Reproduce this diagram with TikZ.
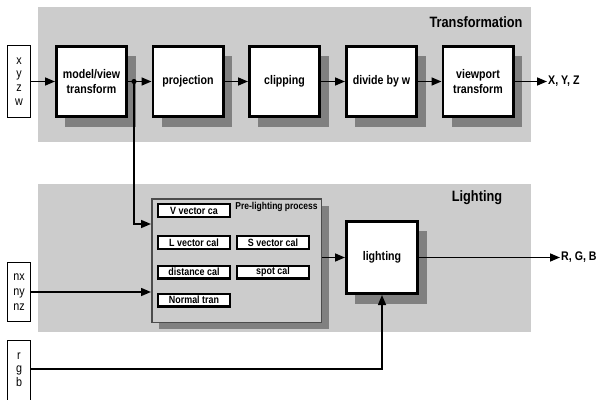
\documentclass[tikz,border=0pt]{standalone}
\usepackage{fontspec}
\setmainfont{Liberation Sans}
\newfontfamily\condbold[FakeStretch=0.85]{Liberation Sans Bold}
\newfontfamily\condreg[FakeStretch=0.86]{Liberation Sans}
\usetikzlibrary{shadows,arrows.meta}
\definecolor{panelgray}{gray}{0.80}
\definecolor{shadowgray}{gray}{0.50}
\definecolor{frame}{gray}{0.30}
\begin{document}
\begin{tikzpicture}[x=1pt,y=-1pt,
  panel/.style={fill=panelgray, inner sep=0, outer sep=0},
  stage/.style={draw, line width=2.6pt, fill=white, inner sep=0,
    minimum width=70.4pt, minimum height=70.4pt, align=center,
    font=\condbold\fontsize{12.5}{14.5}\selectfont,
    drop shadow={shadow xshift=9pt, shadow yshift=-10pt, fill=shadowgray, opacity=1}},
  subbox/.style={draw, line width=2.4pt, fill=white, inner sep=0,
    minimum width=71.6pt, minimum height=12.6pt,
    font=\condbold\fontsize{10.5}{12}\selectfont},
  inbox/.style={draw, line width=1.3pt, fill=white, inner sep=0,
    minimum width=22.7pt, align=center},
  title/.style={font=\condbold\fontsize{15}{17}\selectfont, inner sep=0},
  outlabel/.style={font=\condbold\fontsize{12.5}{15}\selectfont, inner sep=1pt},
  conn/.style={line width=1.5pt, -{Triangle[length=10pt,width=8pt]}},
  wire/.style={line width=1.5pt}
]
\clip (0,0) rectangle (596,399);
\useasboundingbox (0,0) rectangle (596,399);

% background panels
\node[panel, minimum width=493pt, minimum height=135pt] (tpanel) at (284.5,74.5) {};
\node[panel, minimum width=493pt, minimum height=148pt] (lpanel) at (284.5,258) {};
\node[title] (ttitle) at (476,22) {Transformation};
\node[title] (ltitle) at (477,198) {Lighting};

% transformation pipeline
\node[inbox, minimum height=71.7pt, font=\condreg\fontsize{12.5}{13.7}\selectfont] (xyzw) at (19,81.5) {x\\y\\z\\w};
\node[stage] (mv)   at (91.5,81.5)  {model/view\\transform};
\node[stage] (proj) at (188,81.5)   {projection};
\node[stage] (clip) at (284.5,81.5) {clipping};
\node[stage] (div)  at (381.5,81.5) {divide by w};
\node[stage] (vp)   at (478,81.5)   {viewport\\transform};
\node[outlabel, anchor=west] (xyzout) at (547,81.5) {X, Y, Z};

\draw[conn] (xyzw) -- (mv);
\draw[conn] (mv) -- (proj);
\draw[conn] (proj) -- (clip);
\draw[conn] (clip) -- (div);
\draw[conn] (div) -- (vp);
\draw[conn] (vp) -- (xyzout);

% pre-lighting group
\node[draw=frame, line width=1.5pt, fill=panelgray, inner sep=0,
      minimum width=169.5pt, minimum height=123.5pt,
      drop shadow={shadow xshift=7.5pt, shadow yshift=-7pt, fill=shadowgray, opacity=1}]
      (pre) at (236.5,260.5) {};
\node[font=\condbold\fontsize{10}{12}\selectfont, inner sep=0] (prelabel) at (276.5,207) {Pre-lighting process};
\node[subbox] (vvec)  at (194,210.5) {V vector ca};
\node[subbox] (lvec)  at (194,242.5) {L vector cal};
\node[subbox] (svec)  at (273,242.5) {S vector cal};
\node[subbox] (dist)  at (194,272)   {distance cal};
\node[subbox] (spot)  at (273,272)   {spot cal};
\node[subbox] (ntran) at (194,300)   {Normal tran};

% lighting stage
\node[stage, minimum width=71.4pt, minimum height=72.4pt] (light) at (382,257.5) {lighting};
\node[outlabel, anchor=west] (rgbout) at (560,257.5) {R, G, B};

% inputs
\node[inbox, minimum height=58.7pt, font=\condreg\fontsize{12.5}{15}\selectfont] (nxyz) at (19,292) {nx\\ny\\nz};
\node[inbox, anchor=north, minimum height=72pt, font=\condreg\fontsize{12.5}{13.5}\selectfont] (rgbin) at (19,339.6) {r\\g\\b\\ };

% connections
\coordinate (tap) at (134,81.5);
\fill (tap) circle (2.6);
\draw[conn] (tap) |- (pre.west |- 0,224);
\draw[conn] (nxyz) -- (pre.west |- nxyz);
\draw[conn] (pre.east |- light) -- (light);
\draw[conn] (light) -- (rgbout);
\draw[conn] (rgbin.east |- 0,369) -| (light.south);
\end{tikzpicture}
\end{document}
